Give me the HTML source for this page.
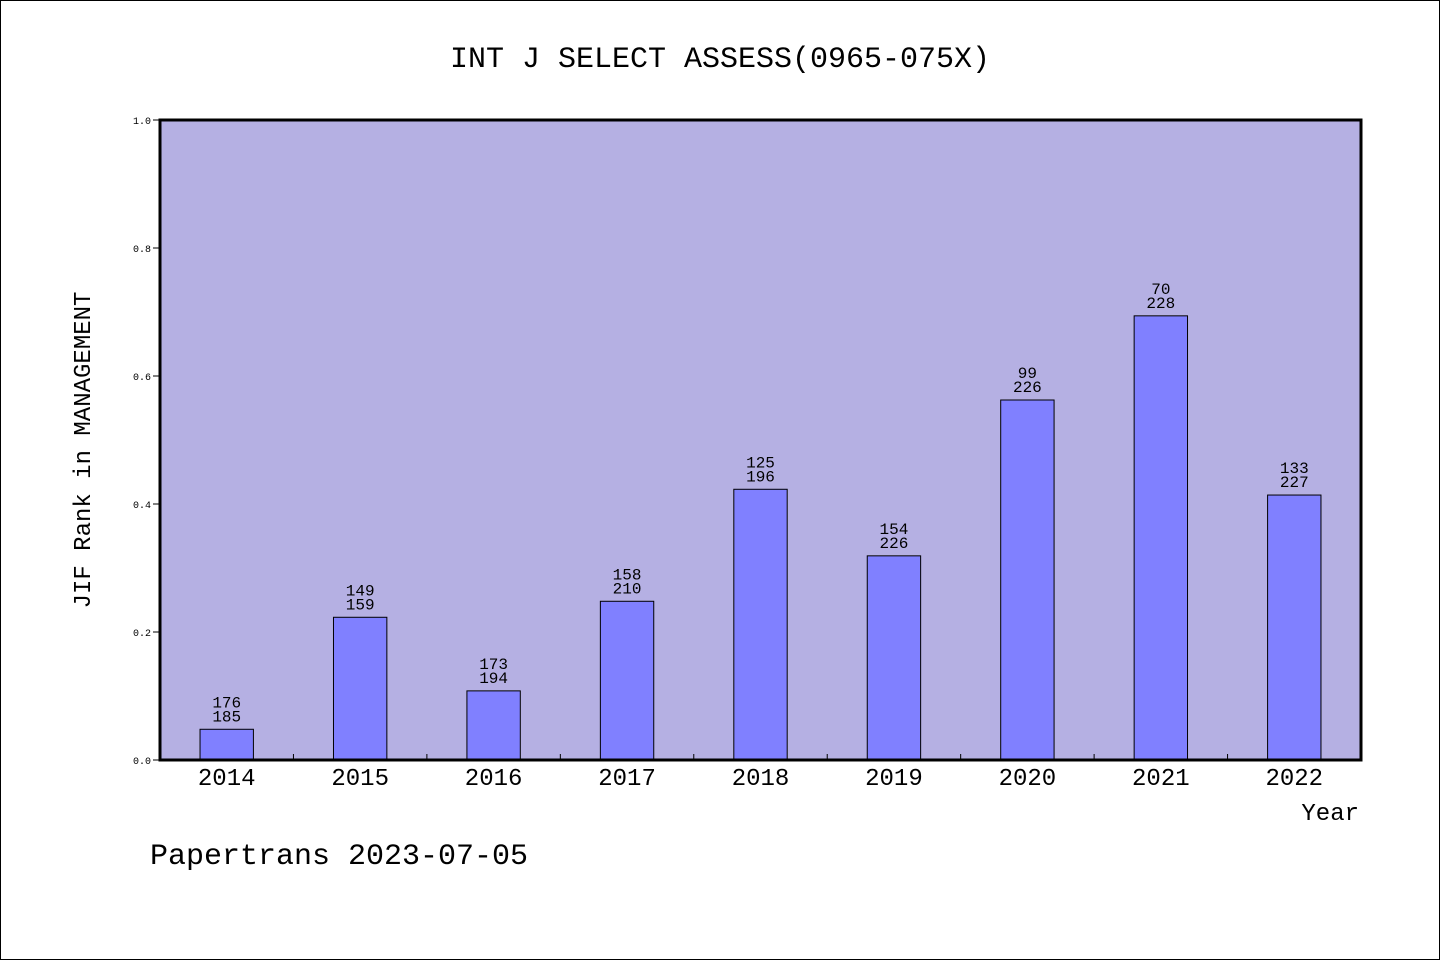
<!DOCTYPE html>
<html><head><meta charset="utf-8"><style>
body{margin:0;background:#fff}
svg{display:block}
text{font-family:"Liberation Mono","WenQuanYi Zen Hei",monospace;fill:#000}
</style></head><body>
<svg id="chart" width="1440" height="960">
<rect x="0.5" y="0.5" width="1439" height="959" fill="#fff" stroke="#000"/>
<text x="720" y="67" font-size="30" text-anchor="middle">INT J SELECT ASSESS(0965-075X)</text>
<rect x="160" y="120" width="1201" height="640" fill="#b5b0e3"/>
<g id="bars"></g>
<rect x="160" y="120" width="1201" height="640" fill="none" stroke="#000" stroke-width="3"/>
<g id="axes"></g>
<text x="90" y="450" font-size="24" text-anchor="middle" transform="rotate(-90 90 450)">JIF Rank in MANAGEMENT</text>
<text x="1359" y="820" font-size="24" text-anchor="end">Year</text>
<text x="150" y="864" font-size="30">Papertrans 2023-07-05</text>
</svg>
<script>
const categories=["2014","2015","2016","2017","2018","2019","2020","2021","2022"];
const values=[0.048,0.223,0.108,0.248,0.423,0.319,0.5625,0.694,0.414];
const ranks=["176","149","173","158","125","154","99","70","133"];
const totals=["185","159","194","210","196","226","226","228","227"];
const yTicks=[0,0.2,0.4,0.6,0.8,1.0];
const NS="http://www.w3.org/2000/svg";
const X0=160,W=1201,Y0=760,H=640,band=W/categories.length,bw=band*0.4;
const yS=v=>Y0-v*H, xC=i=>X0+band*(i+0.5);
function mk(t,a,p){const e=document.createElementNS(NS,t);for(const k in a)e.setAttribute(k,a[k]);p.appendChild(e);return e;}
const bars=document.getElementById('bars'),axes=document.getElementById('axes');
categories.forEach((c,i)=>{
 const y=yS(values[i]);
 const r=mk('rect',{x:xC(i)-bw/2,y:y,width:bw,height:Y0-y,fill:'#8080ff',stroke:'#000','stroke-width':1},bars);
 
 
 const t1=mk('text',{x:xC(i),y:y-22,'font-size':16,'text-anchor':'middle'},bars);t1.textContent=ranks[i];
 
 
 const t2=mk('text',{x:xC(i),y:y-8,'font-size':16,'text-anchor':'middle'},bars);t2.textContent=totals[i];
 
 
 const xl=mk('text',{x:xC(i),y:785,'font-size':24,'text-anchor':'middle'},axes);xl.textContent=c;
 
 
 if(i>0){const tk=mk('line',{x1:X0+band*i,x2:X0+band*i,y1:Y0,y2:Y0-6,stroke:'#000'},axes);
 
 }
});
yTicks.forEach(v=>{
 const y=yS(v);
 const l=mk('line',{x1:153,x2:160,y1:y,y2:y,stroke:'#000'},axes);
 
 
 const t=mk('text',{x:151,y:y+4,'font-size':10,'text-anchor':'end'},axes);t.textContent=v.toFixed(1);
 
 
});
</script>
</body></html>
